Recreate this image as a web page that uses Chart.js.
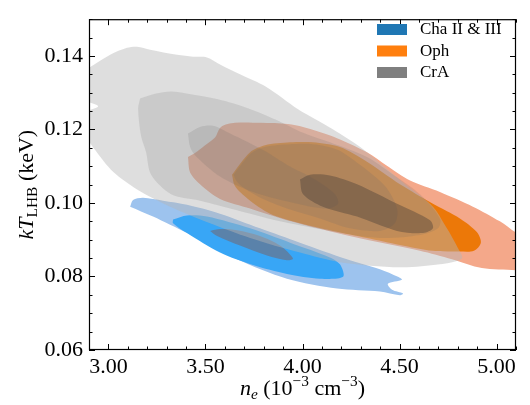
<!DOCTYPE html>
<html>
<head>
<meta charset="utf-8">
<title>kT vs n_e contours</title>
<script src="https://cdn.jsdelivr.net/npm/chart.js@4"></script>
<style>
  body { margin: 0; background: #fff; }
  canvas { display: block; }
</style>
</head>
<body>
<canvas id="myChart" width="530" height="405"></canvas>
<script>
// axis ticks
const xTicks = [3.0, 3.5, 4.0, 4.5, 5.0];
const yTicks = [0.06, 0.08, 0.10, 0.12, 0.14];
const xRange = [2.9, 5.1];
const yRange = [0.06, 0.15];

// legend
const groups = ['Cha II & III', 'Oph', 'CrA'];

// contour outlines, [n_e, kT] pairs, outer level first
const chaLevel1 = [[3.112,0.0990],[3.127,0.1008],[3.179,0.1014],[3.282,0.1006],[3.405,0.0995],[3.575,0.0971],[3.781,0.0931],[3.987,0.0892],[4.229,0.0847],[4.399,0.0820],[4.492,0.0799],[4.512,0.0791],[4.440,0.0780],[4.461,0.0764],[4.518,0.0754],[4.502,0.0749],[4.399,0.0759],[4.178,0.0767],[3.920,0.0794],[3.663,0.0847],[3.405,0.0918],[3.230,0.0963]];
const chaLevel2 = [[3.333,0.0955],[3.405,0.0966],[3.508,0.0963],[3.730,0.0931],[3.936,0.0892],[4.141,0.0852],[4.193,0.0833],[4.209,0.0799],[4.090,0.0794],[3.920,0.0807],[3.745,0.0831],[3.575,0.0865],[3.405,0.0918],[3.333,0.0945]];
const chaLevel3 = [[3.524,0.0924],[3.575,0.0929],[3.663,0.0926],[3.781,0.0910],[3.884,0.0884],[3.951,0.0849],[3.920,0.0844],[3.817,0.0857],[3.678,0.0884],[3.560,0.0910]];

const ophLevel1 = [[3.410,0.1125],[3.446,0.1136],[3.498,0.1157],[3.549,0.1178],[3.580,0.1207],[3.652,0.1218],[3.786,0.1218],[3.925,0.1215],[4.003,0.1207],[4.157,0.1181],[4.332,0.1138],[4.435,0.1101],[4.554,0.1061],[4.708,0.1030],[4.878,0.0990],[5.017,0.0950],[5.105,0.0918],[5.150,0.0913],[5.150,0.0817],[5.105,0.0817],[4.924,0.0823],[4.770,0.0847],[4.605,0.0870],[4.260,0.0908],[3.920,0.0953],[3.730,0.0985],[3.575,0.1011],[3.472,0.1051],[3.421,0.1083]];
const ophLevel2 = [[3.637,0.1077],[3.730,0.1138],[3.807,0.1157],[3.936,0.1165],[4.054,0.1165],[4.193,0.1152],[4.332,0.1112],[4.502,0.1051],[4.672,0.0998],[4.811,0.0958],[4.898,0.0921],[4.919,0.0892],[4.883,0.0870],[4.811,0.0868],[4.672,0.0870],[4.502,0.0886],[4.332,0.0905],[4.157,0.0924],[3.987,0.0945],[3.833,0.0971],[3.719,0.1011],[3.652,0.1046]];
const ophLevel3 = [[3.645,0.1077],[3.735,0.1135],[3.810,0.1153],[3.936,0.1160],[4.054,0.1160],[4.180,0.1145],[4.296,0.1104],[4.425,0.1046],[4.487,0.0985],[4.476,0.0945],[4.399,0.0924],[4.245,0.0931],[4.090,0.0958],[3.936,0.0982],[3.800,0.1010],[3.700,0.1040],[3.660,0.1060]];

const craLevel1 = [[2.880,0.1361],[3.009,0.1403],[3.096,0.1422],[3.148,0.1425],[3.215,0.1417],[3.354,0.1403],[3.436,0.1398],[3.508,0.1396],[3.575,0.1377],[3.678,0.1350],[3.812,0.1316],[3.977,0.1255],[4.152,0.1202],[4.306,0.1149],[4.399,0.1109],[4.554,0.1040],[4.672,0.0990],[4.744,0.0931],[4.800,0.0878],[4.821,0.0849],[4.708,0.0833],[4.502,0.0825],[4.193,0.0839],[3.987,0.0865],[3.730,0.0905],[3.524,0.0945],[3.318,0.0990],[3.163,0.1032],[3.024,0.1085],[2.932,0.1144],[2.880,0.1189],[2.880,0.1244],[2.947,0.1263],[2.880,0.1282]];
const craLevel2 = [[3.163,0.1284],[3.240,0.1297],[3.323,0.1303],[3.410,0.1297],[3.565,0.1282],[3.719,0.1258],[3.858,0.1228],[4.003,0.1191],[4.141,0.1165],[4.332,0.1125],[4.451,0.1083],[4.605,0.1024],[4.708,0.0958],[4.698,0.0931],[4.605,0.0913],[4.399,0.0905],[4.141,0.0924],[3.884,0.0950],[3.627,0.0985],[3.457,0.1008],[3.323,0.1024],[3.220,0.1077],[3.194,0.1138],[3.168,0.1183],[3.153,0.1255]];
const craLevel3 = [[3.410,0.1189],[3.472,0.1207],[3.539,0.1210],[3.627,0.1189],[3.797,0.1144],[3.936,0.1099],[4.064,0.1064],[4.167,0.1024],[4.183,0.0998],[4.126,0.0985],[3.972,0.0998],[3.745,0.1030],[3.575,0.1072],[3.446,0.1130],[3.421,0.1152]];
const craLevel4 = [[3.987,0.1064],[4.039,0.1077],[4.141,0.1075],[4.281,0.1051],[4.487,0.0998],[4.657,0.0953],[4.672,0.0931],[4.621,0.0918],[4.487,0.0924],[4.281,0.0963],[4.105,0.0990],[4.003,0.1024]];

const legendColors = ['#1f77b4', '#ff7f0e', '#7f7f7f'];

// filled levels, drawn in this order (Cha first, CrA on top)
const layers = [
  { pts: chaLevel1, color: '#9dc3ee' },
  { pts: chaLevel2, color: '#38a6f6' },
  { pts: chaLevel3, color: '#5a82aa' },
  { pts: ophLevel1, color: '#f4a88a' },
  { pts: ophLevel2, color: '#ec7808' },
  { pts: ophLevel3, color: '#c86a10' },
  { pts: craLevel1, color: 'rgba(182,182,182,0.45)' },
  { pts: craLevel2, color: 'rgba(100,100,100,0.16)' },
  { pts: craLevel3, color: 'rgba(100,100,100,0.175)' },
  { pts: craLevel4, color: 'rgba(70,60,55,0.40)' }
];

const SERIF = '"Liberation Serif", "DejaVu Serif", serif';

function closed(arr) {
  return arr.concat([arr[0]]).map(p => ({ x: p[0], y: p[1] }));
}

// text with sub/superscripts, centred on x
function richText(ctx, parts, x, y, size) {
  const small = size * 0.7;
  const fontOf = p => (p.it ? 'italic ' : '') + ((p.sub || p.sup) ? small : size) + 'px ' + SERIF;
  let w = 0;
  parts.forEach(p => { ctx.font = fontOf(p); w += ctx.measureText(p.t).width; });
  let cx = x - w / 2;
  ctx.textAlign = 'left';
  ctx.textBaseline = 'alphabetic';
  parts.forEach(p => {
    ctx.font = fontOf(p);
    const dy = p.sub ? size * 0.2 : (p.sup ? -size * 0.42 : 0);
    ctx.fillText(p.t, cx, y + dy);
    cx += ctx.measureText(p.t).width;
  });
}

const framePlugin = {
  id: 'frame',
  afterDraw(chart) {
    const { ctx, chartArea: a, scales } = chart;
    const xs = scales.x, ys = scales.y;
    ctx.save();
    ctx.strokeStyle = '#000';
    ctx.lineWidth = 1.2;
    ctx.strokeRect(a.left + 0.5, a.top + 0.5, a.right - a.left - 1, a.bottom - a.top - 1);

    ctx.lineWidth = 1;
    ctx.beginPath();
    // x ticks, inward on bottom and top
    for (let i = 29; i <= 51; i++) {
      const px = Math.round(xs.getPixelForValue(i / 10)) + 0.5;
      const len = (i % 5 === 0) ? 6 : 3.5;
      ctx.moveTo(px, a.bottom); ctx.lineTo(px, a.bottom - len);
      ctx.moveTo(px, a.top); ctx.lineTo(px, a.top + len);
    }
    // y ticks, inward on left and right
    for (let i = 12; i <= 30; i++) {
      const py = Math.round(ys.getPixelForValue(i * 0.005)) + 0.5;
      const len = (i % 4 === 0) ? 6 : 3.5;
      ctx.moveTo(a.left, py); ctx.lineTo(a.left + len, py);
      ctx.moveTo(a.right, py); ctx.lineTo(a.right - len, py);
    }
    ctx.stroke();

    // axis titles
    ctx.fillStyle = '#000';
    richText(ctx, [
      { t: 'n', it: true }, { t: 'e', it: true, sub: true },
      { t: ' (10' }, { t: '\u22123', sup: true }, { t: ' cm' }, { t: '\u22123', sup: true }, { t: ')' }
    ], (a.left + a.right) / 2, 395, 22);
    ctx.save();
    ctx.translate(33, (a.top + a.bottom) / 2);
    ctx.rotate(-Math.PI / 2);
    richText(ctx, [
      { t: 'kT', it: true }, { t: 'LHB', sub: true }, { t: ' (keV)' }
    ], 0, 0, 22);
    ctx.restore();

    // legend
    ctx.font = '17px ' + SERIF;
    ctx.textBaseline = 'middle';
    ctx.textAlign = 'left';
    groups.forEach((g, i) => {
      const top = 24 + i * 21.5;
      ctx.fillStyle = legendColors[i];
      ctx.fillRect(377, top, 30, 11);
      ctx.fillStyle = '#000';
      ctx.fillText(g, 420, top + 6);
    });
    ctx.restore();
  }
};

const ctx = document.getElementById('myChart').getContext('2d');
new Chart(ctx, {
  type: 'line',
  data: {
    datasets: layers.map((l, i) => ({
      data: closed(l.pts),
      backgroundColor: l.color,
      borderWidth: 0,
      borderColor: 'rgba(0,0,0,0)',
      pointRadius: 0,
      tension: 0.3,
      fill: 'shape',
      order: layers.length - i
    }))
  },
  options: {
    responsive: false,
    animation: false,
    devicePixelRatio: 1,
    layout: { padding: { left: 0, top: 11, right: 14, bottom: 0 } },
    plugins: { legend: { display: false }, tooltip: { enabled: false } },
    scales: {
      x: {
        type: 'linear',
        min: xRange[0], max: xRange[1],
        grid: { display: false, drawTicks: false },
        border: { display: false },
        afterBuildTicks: s => { s.ticks = xTicks.map(v => ({ value: v })); },
        afterFit: s => { s.height = 55; },
        ticks: {
          padding: 4,
          color: '#000',
          font: { family: SERIF, size: 22 },
          callback: v => v.toFixed(2),
          maxRotation: 0
        }
      },
      y: {
        type: 'linear',
        min: yRange[0], max: yRange[1],
        grid: { display: false, drawTicks: false },
        border: { display: false },
        afterBuildTicks: s => { s.ticks = yTicks.map(v => ({ value: v })); },
        afterFit: s => { s.width = 89; },
        ticks: {
          padding: 6,
          color: '#000',
          font: { family: SERIF, size: 22 },
          callback: v => v.toFixed(2)
        }
      }
    }
  },
  plugins: [framePlugin]
});
</script>
</body>
</html>
